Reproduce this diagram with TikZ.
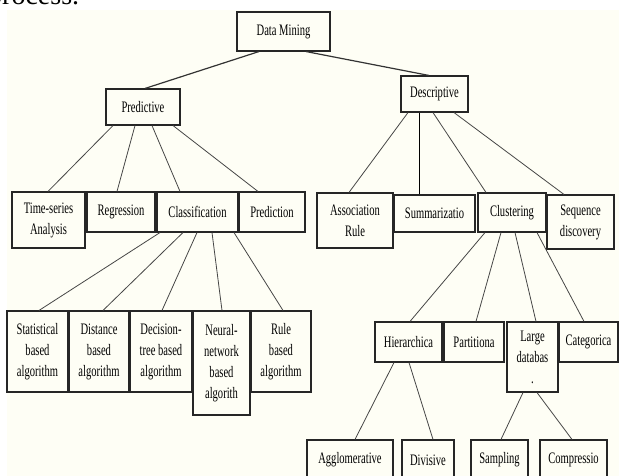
\documentclass[tikz,border=0pt]{standalone}
\usepackage{fontspec}
\setmainfont{Liberation Serif}[FakeStretch=0.66]
\newfontfamily\plainserif{Liberation Serif}
\definecolor{cream}{RGB}{254,254,245}
\definecolor{linegray}{RGB}{70,70,70}
\tikzset{
  box/.style={draw=black!85, line width=1.1pt, inner sep=0pt, align=center,
    font=\fontsize{16}{21}\selectfont, text=black},
  conn/.style={draw=linegray, line width=0.8pt},
  topconn/.style={draw=black!80, line width=1.2pt}
}
\begin{document}
\begin{tikzpicture}[x=1pt,y=-1pt]
\useasboundingbox (0,0) rectangle (619,476);
\fill[white] (0,0) rectangle (619,476);
\fill[cream] (7,10) rectangle (619,476);
\node[anchor=base west, inner sep=0pt, font=\plainserif\fontsize{28}{30}\selectfont] (proc) at (-12,5) {process.};
% level 0-1
\node[box, minimum width=93, minimum height=39] (dm) at (283.5,31.5) {Data Mining};
\node[box, minimum width=74, minimum height=36] (pred) at (143,107) {Predictive};
\node[box, minimum width=67, minimum height=36] (desc) at (434.5,94) {Descriptive};
% level 2
\node[box, minimum width=73, minimum height=56] (ts) at (48.5,220) {Time-series\\Analysis};
\node[box, minimum width=68, minimum height=40] (reg) at (121,212) {Regression};
\node[box, minimum width=81, minimum height=40] (cls) at (197.5,212) {Classification};
\node[box, minimum width=66, minimum height=40] (prd) at (272,212) {Prediction};
\node[box, minimum width=76, minimum height=55] (asc) at (355,220.5) {Association\\Rule};
\node[box, minimum width=81, minimum height=37] (sum) at (434.5,213.5) {Summarizatio};
\node[box, minimum width=68, minimum height=39] (clu) at (512,212.5) {Clustering};
\node[box, minimum width=67, minimum height=54] (seq) at (580.5,222) {Sequence\\discovery};
% level 3 left
\node[box, minimum width=61, minimum height=81] (stat) at (37.5,351.5) {Statistical\\based\\algorithm};
\node[box, minimum width=60, minimum height=81] (dist) at (99,351.5) {Distance\\based\\algorithm};
\node[box, minimum width=62, minimum height=81] (dec) at (161,351.5) {Decision-\\tree based\\algorithm};
\node[box, minimum width=57, minimum height=104] (neu) at (221.5,363) {Neural-\\network\\based\\algorith};
\node[box, minimum width=60, minimum height=81] (rule) at (281,351.5) {Rule\\based\\algorithm};
% level 3 right
\node[box, minimum width=67, minimum height=40] (hier) at (408.5,342) {Hierarchica};
\node[box, minimum width=60, minimum height=40] (part) at (474,342) {Partitiona};
\node[box, minimum width=51, minimum height=70] (large) at (532.5,357) {Large\\databas\\.};
\node[box, minimum width=59, minimum height=40] (cat) at (588.5,342) {Categorica};
% level 4
\node[box, minimum width=86, minimum height=40] (agg) at (350,460) {Agglomerative};
\node[box, minimum width=52, minimum height=40] (div) at (428,460) {Divisive};
\node[box, minimum width=57, minimum height=40] (samp) at (499.5,460) {Sampling};
\node[box, minimum width=67, minimum height=40] (comp) at (573.5,460) {Compressio};
% connectors
\draw[topconn] ([xshift=-24.5]dm.south) -- ([xshift=2]pred.north);
\draw[topconn] ([xshift=22.5]dm.south) -- ([xshift=-5.5]desc.north);
\draw[conn] ([xshift=-30]pred.south) -- ([xshift=-0.5]ts.north);
\draw[conn] ([xshift=-8]pred.south) -- ([xshift=-4]reg.north);
\draw[conn] ([xshift=9]pred.south) -- ([xshift=-17.5]cls.north);
\draw[conn] ([xshift=30]pred.south) -- ([xshift=-14]prd.north);
\draw[conn] ([xshift=-26.5]desc.south) -- ([xshift=-6]asc.north);
\draw[conn, draw=black] ([xshift=-15.5]desc.south) -- ([xshift=-15.5]sum.north);
\draw[conn] ([xshift=-1.5]desc.south) -- ([xshift=-26]clu.north);
\draw[conn] ([xshift=19.5]desc.south) -- ([xshift=-16.5]seq.north);
\draw[conn] ([xshift=-37.5]cls.south) -- ([xshift=1.5]stat.north);
\draw[conn] ([xshift=-14.5]cls.south) -- ([xshift=4]dist.north);
\draw[conn] ([xshift=-0.5]cls.south) -- ([xshift=1]dec.north);
\draw[conn] ([xshift=14.5]cls.south) -- ([xshift=0.5]neu.north);
\draw[conn] ([xshift=36.5]cls.south) -- ([xshift=2]rule.north);
\draw[conn] ([xshift=-27]clu.south) -- ([xshift=1.5]hier.north);
\draw[conn] ([xshift=-11]clu.south) -- ([xshift=2]part.north);
\draw[conn] ([xshift=3]clu.south) -- ([xshift=3.5]large.north);
\draw[conn] ([xshift=25]clu.south) -- ([xshift=-4.5]cat.north);
\draw[conn] ([xshift=-14.5]hier.south) -- ([xshift=5]agg.north);
\draw[conn] ([xshift=0.5]hier.south) -- ([xshift=5]div.north);
\draw[conn] ([xshift=-9.5]large.south) -- ([xshift=1.5]samp.north);
\draw[conn] ([xshift=4.5]large.south) -- ([xshift=-1.5]comp.north);
\end{tikzpicture}
\end{document}
